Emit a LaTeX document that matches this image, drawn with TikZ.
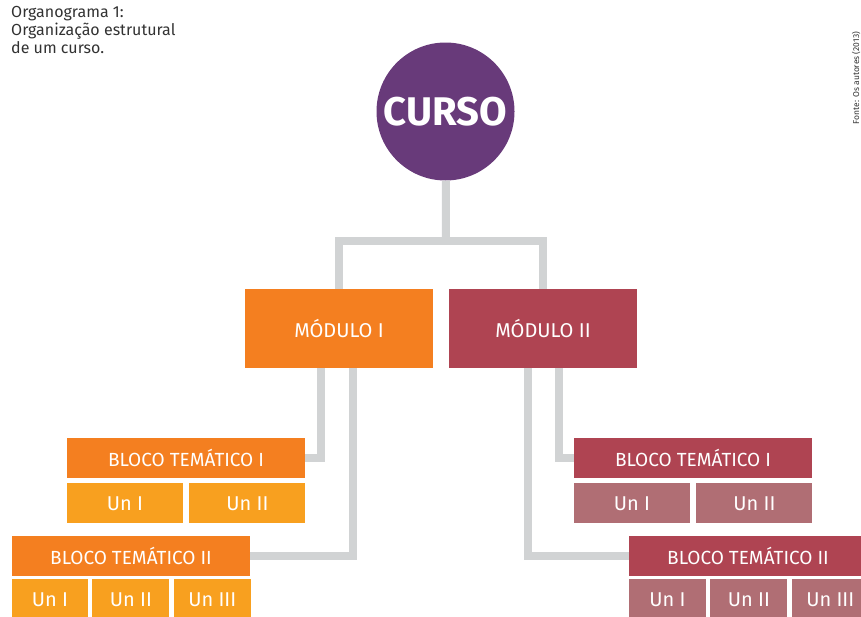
\documentclass[tikz,border=0pt]{standalone}
\usepackage{fontspec}
\setmainfont{Fira Sans}
\usepackage{xcolor}
\usetikzlibrary{positioning}
\definecolor{roxo}{RGB}{104,58,122}
\definecolor{laranja}{RGB}{244,127,32}
\definecolor{laranjaclaro}{RGB}{248,160,31}
\definecolor{vinho}{RGB}{175,68,82}
\definecolor{vinhoclaro}{RGB}{176,110,116}
\definecolor{cinza}{RGB}{209,211,212}
\definecolor{legenda}{RGB}{50,50,50}
\tikzstyle{curso} = [circle, fill=roxo, minimum size=138pt, inner sep=0pt, text=white, font=\bfseries\fontsize{40}{42}\selectfont]
\tikzstyle{modulo} = [rectangle, minimum width=188pt, minimum height=79pt, inner sep=0pt, text=white, font=\fontsize{20}{22}\selectfont]
\tikzstyle{bloco} = [rectangle, minimum width=238pt, minimum height=40pt, inner sep=0pt, text=white, font=\fontsize{19}{21}\selectfont]
\tikzstyle{unidade} = [rectangle, minimum height=40pt, inner sep=0pt, text=white, font=\fontsize{20}{22}\selectfont]
\tikzstyle{conn} = [line width=8pt, draw=cinza]

\begin{document}
\begin{tikzpicture}[x=1pt, y=-1pt]
        \useasboundingbox (0,0) rectangle (861,616);
        \node (titulo) [anchor=north west, align=left, inner sep=0pt, text=legenda, font=\fontsize{16}{18}\selectfont] at (11,6) {Organograma 1:\\Organização estrutural\\de um curso.};
        \node (fonte) [rotate=90, anchor=base, inner sep=0pt, text=legenda, font=\fontsize{8.5}{10}\selectfont] at (859,78) {Fonte: Os autores (2013)};

        \node (curso) [curso] at (445.5,111.5) {CURSO};
        \node (mod1) [modulo, fill=laranja] at (339,328.5) {MÓDULO I};
        \node (mod2) [modulo, fill=vinho] at (543,328.5) {MÓDULO II};

        \node (b1a) [bloco, fill=laranja] at (186,458) {BLOCO TEMÁTICO I};
        \node (u1a1) [unidade, fill=laranjaclaro, minimum width=116pt, below=5pt of b1a.south west, anchor=north west] {Un I};
        \node (u1a2) [unidade, fill=laranjaclaro, minimum width=116pt, right=6pt of u1a1] {Un II};
        \node (b1b) [bloco, fill=laranja] at (131,556) {BLOCO TEMÁTICO II};
        \node (u1b1) [unidade, fill=laranjaclaro, minimum width=76pt, below=3pt of b1b.south west, anchor=north west] {Un I};
        \node (u1b2) [unidade, fill=laranjaclaro, minimum width=77pt, right=4pt of u1b1] {Un II};
        \node (u1b3) [unidade, fill=laranjaclaro, minimum width=77pt, right=4pt of u1b2] {Un III};

        \node (b2a) [bloco, fill=vinho] at (693,458) {BLOCO TEMÁTICO I};
        \node (u2a1) [unidade, fill=vinhoclaro, minimum width=116pt, below=5pt of b2a.south west, anchor=north west] {Un I};
        \node (u2a2) [unidade, fill=vinhoclaro, minimum width=116pt, right=6pt of u2a1] {Un II};
        \node (b2b) [bloco, fill=vinho] at (748,556) {BLOCO TEMÁTICO II};
        \node (u2b1) [unidade, fill=vinhoclaro, minimum width=77pt, below=3pt of b2b.south west, anchor=north west] {Un I};
        \node (u2b2) [unidade, fill=vinhoclaro, minimum width=77pt, right=4pt of u2b1] {Un II};
        \node (u2b3) [unidade, fill=vinhoclaro, minimum width=77pt, right=4pt of u2b2] {Un III};

        \coordinate (juncao) at (446,241);
        \draw [conn] (curso) -- (juncao);
        \draw [conn] (mod1.north) |- (juncao) -| (mod2.north);
        \draw [conn] ([xshift=-18pt]mod1.south) |- (b1a.east);
        \draw [conn] ([xshift=14pt]mod1.south) |- (b1b.east);
        \draw [conn] ([xshift=15.5pt]mod2.south) |- (b2a.west);
        \draw [conn] ([xshift=-15.5pt]mod2.south) |- (b2b.west);
    \end{tikzpicture}
\end{document}
